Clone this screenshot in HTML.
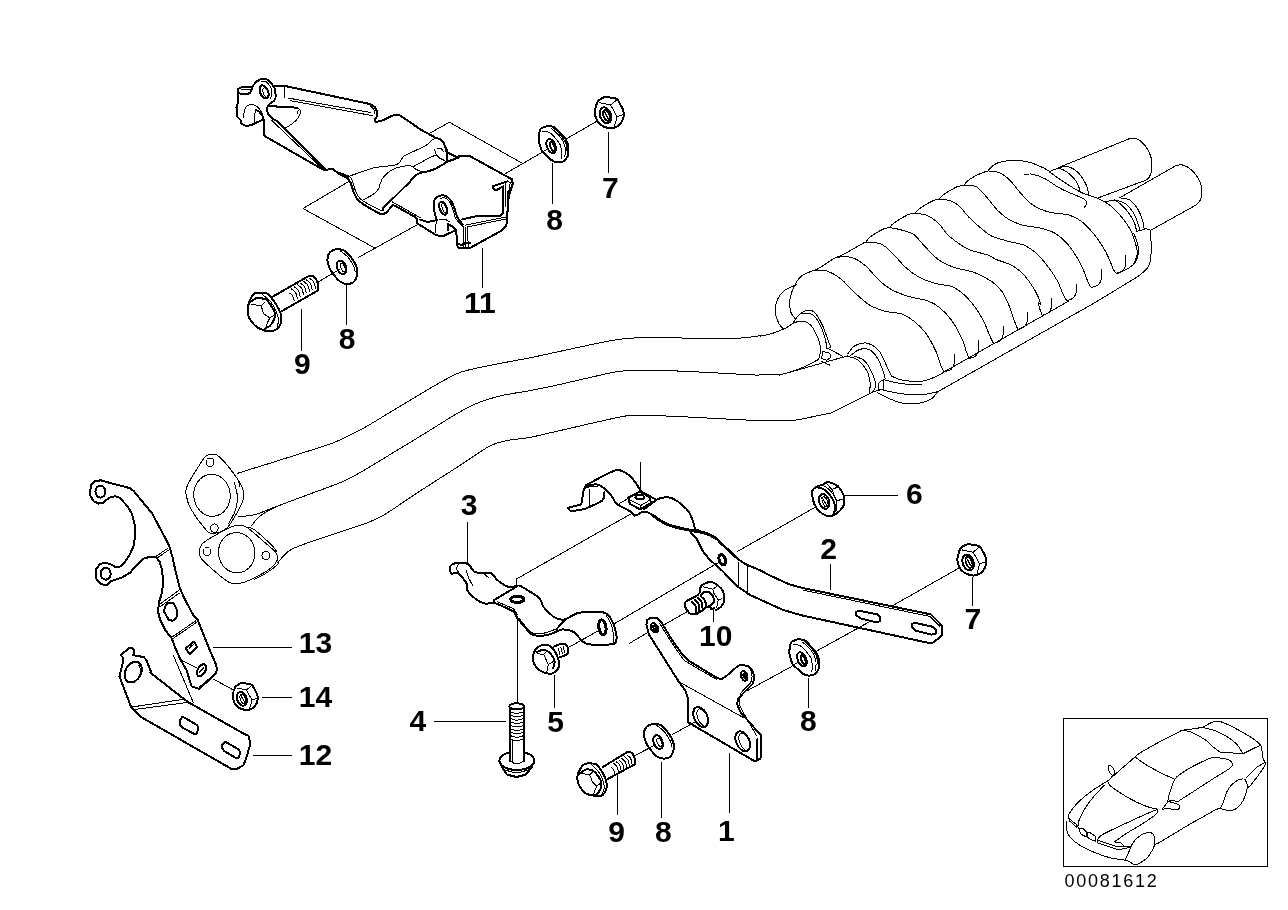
<!DOCTYPE html>
<html><head><meta charset="utf-8"><title>Exhaust system parts diagram</title>
<style>
html,body{margin:0;padding:0;background:#fff;}
svg{display:block;will-change:transform;}
.t{fill:none;stroke:#000;stroke-width:1;vector-effect:non-scaling-stroke;stroke-linejoin:round;stroke-linecap:round;}
.k{fill:none;stroke:#000;stroke-width:2;vector-effect:non-scaling-stroke;stroke-linejoin:round;stroke-linecap:round;}
.kk{fill:none;stroke:#000;stroke-width:3;vector-effect:non-scaling-stroke;stroke-linejoin:round;stroke-linecap:round;}
.w{fill:#fff;stroke:#000;stroke-width:2;vector-effect:non-scaling-stroke;stroke-linejoin:round;}
.wt{fill:#fff;stroke:#000;stroke-width:1;vector-effect:non-scaling-stroke;stroke-linejoin:round;}
.lbl{font-family:"Liberation Sans",sans-serif;font-weight:bold;font-size:29.5px;text-anchor:middle;fill:#000;}
.num{font-family:"Liberation Sans",sans-serif;font-size:17px;fill:#000;}
</style></head><body>
<svg width="1288" height="910" viewBox="0 0 1288 910" shape-rendering="crispEdges">
<rect x="0" y="0" width="1288" height="910" fill="#fff"/>
<!-- 05_leaders.svg -->
<g>
<path class="t" d="M430.9,132.6L449.4,122.3L522.3,163.3"/>
<path class="t" d="M503.8,174.5L542.4,152.2"/>
<path class="t" d="M565.8,139.2L596.6,121.4"/>
<path class="t" d="M552.5,163.8L552.5,203.7"/>
<path class="t" d="M608.5,132.2L608.5,172.1"/>
<path class="t" d="M482.5,248.2L482.5,287.5"/>
<path class="t" d="M348.4,181.8L303,208.5L375.7,248.5"/>
<path class="t" d="M358.1,257.6L416.1,225.3"/>
<path class="t" d="M318.2,281.9L339.4,269.4"/>
<path class="t" d="M301.3,309.1L301.3,350.2"/>
<path class="t" d="M346.2,284.1L346.2,324.8"/>
<path class="t" d="M467.6,522.8L467.6,563.6"/>
<path class="t" d="M516.2,586.1L516.2,579.2L630.7,514"/>
<path class="t" d="M517.4,619.5L517.4,708.7"/>
<path class="t" d="M568.5,647.5L598.8,630.4"/>
<path class="t" d="M613.6,624.2L719.2,562.1"/>
<path class="t" d="M629.2,643.5L646.4,633.2"/>
<path class="t" d="M664.3,624.7L687.5,611.5"/>
<path class="t" d="M713.9,608.4L713.9,621.6"/>
<path class="t" d="M554.5,675.4L554.5,707.6"/>
<path class="t" d="M434.2,721.5L505.6,721.5"/>
<path class="t" d="M845.2,495.2L897.9,495.2"/>
<path class="t" d="M737.8,551.3L814.9,507.4"/>
<path class="t" d="M830.4,564L830.4,589.6"/>
<path class="t" d="M893.6,605.1L959.3,567.9"/>
<path class="t" d="M972.3,577.3L972.3,605.6"/>
<path class="t" d="M817.5,650.6L869.6,621.7"/>
<path class="t" d="M747.3,690.7L792,666.3"/>
<path class="t" d="M808.6,678.9L808.6,707.6"/>
<path class="t" d="M672,734.7L695.3,721.9"/>
<path class="t" d="M634.8,755.8L655.7,744.4"/>
<path class="t" d="M661.5,762.3L661.5,818"/>
<path class="t" d="M729.5,753L729.5,813"/>
<path class="t" d="M617.4,775.3L617.4,814.8"/>
<path class="t" d="M213.2,647.2L291.7,647.2"/>
<path class="t" d="M262.4,697L291.7,697"/>
<path class="t" d="M253.3,755.3L291.7,755.3"/>
<path class="t" d="M181.5,660.2L196.5,667.7"/>
<path class="t" d="M214,679.4L234.7,690.7"/>
<path class="t" d="M173.3,655.2L193.3,702.6"/>
<path class="t" d="M640.4,462.8L640.4,490.7"/>
</g>
<!-- 10_muf1.svg -->
<g>
<path class="t" d="M889.5,227.5C891.5,227.9 897.5,228.8 901.5,230C905.5,231.2 909.9,231.9 913.7,234.4C917.4,237 919.7,241 923.8,245.2C927.8,249.3 932.9,255.6 937.9,259.3C943,263 948,265.2 954.1,267.4C960.2,269.6 968,270.1 974.3,272.5C980.6,274.8 987.5,278.5 992.1,281.7C996.8,285 999.5,288 1002.2,291.9C1005,295.7 1006.8,300.3 1008.7,304.8C1010.6,309.3 1012.2,314.8 1013.7,319C1015.2,323.1 1017.1,327.7 1017.8,329.5"/>
<path class="t" d="M915.1,213.1C917.1,213.5 923,213.9 926.8,215.4C930.5,217 934.3,219.3 937.6,222.4C941,225.5 944.2,231.1 947,234C949.7,237 950.5,237.6 954.1,240.1C957.6,242.6 962.5,246.7 968.2,249.2C974,251.7 983.8,253.6 988.5,255.3C993.1,257 992.2,257.8 996.2,259.5C1000.2,261.2 1007.6,262.9 1012.3,265.6C1017.1,268.3 1020.8,271.6 1024.5,275.7C1028.2,279.7 1031.9,285.2 1034.6,289.8C1037.3,294.5 1040.1,301.4 1040.7,303.6C1041.2,305.7 1037.8,300.8 1038,302.8C1038.2,304.7 1041.4,313.2 1042,315.3"/>
<path class="t" d="M939.2,199.1C941,199.4 946.7,199.5 950.1,200.7C953.4,201.8 956.3,203.4 959.4,206.1C962.5,208.8 964.6,212.8 968.7,217C972.8,221.1 980.3,227.7 984.2,230.9C988.1,234.1 988.1,234.5 992.1,236.3C996.1,238 1002.9,239.8 1008.3,241.3C1013.7,242.8 1019.8,243.3 1024.5,245.3C1029.2,247.4 1032.6,249.7 1036.6,253.4C1040.7,257.1 1045.2,262.9 1048.7,267.6C1052.3,272.3 1055.5,277.4 1057.8,281.7C1060.2,286.1 1061.4,290.7 1062.9,293.9C1064.4,297.1 1066.3,299.8 1066.9,300.9"/>
<path class="t" d="M964,185.1C965.8,185.3 972.2,185.4 974.9,186.2C977.6,187 977.8,187.6 980,189.8C982.2,191.9 985.1,195.3 988.1,198.8C991.1,202.4 994.8,207.6 998.2,211C1001.6,214.3 1004.3,216.7 1008.3,219.1C1012.3,221.4 1017.1,223.6 1022.5,225.1C1027.8,226.6 1035.3,226.8 1040.7,228.2C1046,229.5 1050.4,230.7 1054.8,233.2C1059.2,235.7 1063.2,239.3 1066.9,243.3C1070.6,247.4 1074.2,252.8 1077,257.5C1079.9,262.2 1082.3,267.4 1084.1,271.6C1086,275.8 1087,280.1 1088.2,282.8C1089.3,285.4 1090.7,286.6 1091.2,287.4"/>
<path class="t" d="M943,372.5L1069,300.9"/>
<path class="t" d="M937.9,391.7L1093.2,303.6"/>
<path class="t" d="M796.4,284.6C794.4,285.6 787.6,287.8 784.3,290.7C781,293.5 778,297.7 776.6,301.8C775.2,305.8 775.3,311.2 775.8,314.9C776.2,318.6 778,321.7 779.2,324C780.5,326.4 782.6,328.2 783.3,329.1"/>
<path class="t" d="M795.4,319C794.6,317.8 791.6,315.1 790.7,311.9C789.8,308.7 789.4,304 789.9,299.8C790.5,295.5 792,290.6 794,286.6C795.9,282.7 798.2,278.8 801.4,276.1C804.7,273.4 811.6,271.4 813.6,270.4"/>
<path class="t" d="M813.6,270.4C814.4,270.1 814.9,270.6 818.6,268.4C822.3,266.2 833,259.1 835.8,257.3"/>
<path class="t" d="M835.8,257.3C837,256.9 838,257.2 842.9,254.7C847.8,252.1 861.4,244.2 865.1,242.1"/>
<path class="t" d="M813.6,270.4C815.8,270.5 822.2,269.6 826.7,271C831.3,272.5 836.5,275.6 840.9,278.9C845.3,282.3 848.3,286.7 853,291.1C857.7,295.4 863.8,301.4 869.2,304.8C874.6,308.2 880,309.8 885.3,311.3C890.7,312.8 896.8,312.3 901.5,313.9C906.2,315.5 909.6,317.8 913.7,321C917.7,324.2 922.1,328.1 925.8,333.1C929.5,338.2 933.4,345.9 935.9,351.3C938.4,356.7 939.6,362 940.9,365.5C942.3,368.9 943.5,370.9 944,371.9"/>
<path class="t" d="M944,371.9C945.2,371.5 949.4,370.9 951.1,369.5C952.7,368.1 953.5,366 954.1,363.4C954.7,360.9 954.4,355.9 954.5,354.3"/>
<path class="t" d="M835.8,257.3C838.3,257.3 846.1,255.9 851,257.3C855.9,258.6 860.4,261.5 865.1,265.4C869.8,269.3 874.9,276.5 879.3,280.5C883.7,284.6 886.4,286.9 891.4,289.6C896.5,292.3 903.5,294.9 909.6,296.7C915.7,298.6 922.8,298.9 927.8,300.8C932.9,302.6 935.9,304.5 939.9,307.8C944,311.2 948.4,315.8 952.1,321C955.8,326.2 959.8,334.1 962.2,339.2C964.5,344.2 965,348.1 966.2,351.3C967.4,354.5 968.7,357.2 969.3,358.4"/>
<path class="t" d="M969.3,358.4C970.4,357.9 974.3,357.3 975.9,355.8C977.5,354.2 978.3,351.9 978.8,349.3C979.2,346.7 978.8,341.7 978.8,340.2"/>
<path class="t" d="M865.1,242.1C867.8,242.5 876.6,242.1 881.3,244.2C886,246.2 889.4,250.4 893.4,254.3C897.5,258.1 901.2,263.5 905.6,267.4C909.9,271.3 914.7,274.8 919.7,277.5C924.8,280.2 930.5,282.1 935.9,283.6C941.3,285.1 947.4,284.8 952.1,286.6C956.8,288.5 960.2,291 964.2,294.7C968.2,298.4 973,304.1 976.3,308.8C979.7,313.6 982.2,318.6 984.4,323C986.6,327.4 988,331.7 989.5,335.1C991,338.6 992.8,342.2 993.5,343.6"/>
<path class="t" d="M993.5,343.6C994.7,343.1 999,342 1000.6,340.4C1002.2,338.8 1002.8,336.4 1003.2,334.1C1003.7,331.8 1003.2,327.9 1003.2,326.6"/>
<path class="t" d="M1017.8,329.5C1018.9,329 1022.8,328.1 1024.4,326.6C1026.1,325.2 1027,322.9 1027.5,320.6C1028,318.2 1027.5,313.8 1027.5,312.5"/>
<path class="t" d="M1042,315.3C1043.1,314.8 1047.1,314 1048.7,312.5C1050.3,311 1051.2,308.8 1051.7,306.4C1052.2,304.1 1051.7,299.7 1051.7,298.3"/>
<path class="t" d="M891.4,376C893.1,376.6 896.5,379.1 901.5,380C906.6,380.9 916,381.8 921.7,381.2C927.5,380.7 932.2,378.1 935.9,376.6C939.6,375.1 942.6,372.9 944,372.1"/>
<path class="t" d="M883.7,379.6C886.7,380.3 895.2,382.8 901.5,383.7C907.9,384.5 918.4,384.5 921.7,384.7"/>
<path class="t" d="M881.3,389.7C884.7,390.4 894.8,392.9 901.5,393.8C908.3,394.6 915.7,395.1 921.7,394.8C927.8,394.4 935.2,392.2 937.9,391.7"/>
<path class="t" d="M877.3,392.8C880.6,394.3 891.4,400 897.5,401.9C903.5,403.7 908.3,404.2 913.7,403.9C919,403.5 925.8,401.9 929.8,399.8C933.9,397.8 936.6,393.1 937.9,391.7"/>
<path class="t" d="M760,336.1C762,335.7 768.3,334.7 772.1,333.5C776,332.3 780,330.5 783.3,329.1C786.5,327.6 788.8,326.9 791.3,324.6C793.9,322.3 797.2,316.9 798.4,315.3"/>
<path class="t" d="M798.4,315.3C799.8,314.5 803.8,310.8 806.5,310.3C809.2,309.8 812,309.8 814.6,312.3C817.2,314.7 820.1,320.5 822.3,325C824.5,329.5 826.3,335.5 827.7,339.2C829.1,342.9 830.3,345.9 830.8,347.3"/>
<path class="t" d="M801.4,313.3C803.2,313.5 809,312.4 812.2,314.3C815.3,316.3 818.1,320.9 820.2,325C822.4,329.2 824.2,335.3 825.3,339.2C826.4,343.1 826.5,346.8 826.7,348.3"/>
<path class="t" d="M790.3,325C792,324.3 797.1,321 800.4,321C803.8,321 807.7,322.3 810.5,325C813.4,327.7 815.9,333.1 817.6,337.2C819.3,341.2 820.5,345.6 820.7,349.3C820.8,353 819,357.7 818.6,359.4"/>
<path class="t" d="M760,374.6C763.4,374.6 773.5,375.6 780.2,374.6C787,373.5 794,371 800.4,368.5C806.8,366 815.6,360.9 818.6,359.4"/>
<path class="t" d="M830.8,347.3L827.7,348.3L842.9,356.4"/>
<path class="t" d="M822.7,351.3L829.8,353.3L830.8,357.4L826.7,360.4L821.7,358.4Z"/>
<path class="t" d="M821.7,361.4L829.8,365.1"/>
<path class="t" d="M779.2,375.2L847.9,355.8"/>
<path class="t" d="M847.9,353.7C849.1,352.4 851.8,347.4 855,345.6C858.2,343.9 863.1,342.3 867.2,343.2C871.2,344.2 875.9,347.3 879.3,351.3C882.7,355.3 885.3,363.4 887.4,367.5C889.4,371.5 890.7,374.2 891.4,375.6"/>
<path class="t" d="M849,356.8C850.6,355.6 855.7,350.9 859.1,349.7C862.4,348.5 866.1,348.3 869.2,349.7C872.2,351 874.9,354.1 877.3,357.8C879.6,361.4 882,368 883.3,371.5C884.7,375.1 885,377.8 885.3,379"/>
<path class="t" d="M846.9,356.4C848.6,356.9 853.7,356.9 857,359.4C860.4,361.9 865,367.5 867.2,371.5C869.3,375.6 869.8,380.1 870.2,383.7C870.5,387.2 869.3,391.2 869.2,392.8"/>
<path class="t" d="M855,356.4C856.7,357.2 862.1,358.2 865.1,361.4C868.2,364.6 871.5,371.5 873.2,375.6C875,379.6 875.6,383 875.6,385.7C875.6,388.4 873.6,390.7 873.2,391.7"/>
<path class="t" d="M829.8,413.6L869.2,393.8L873.2,391.7L881.3,389.7"/>
<path class="t" d="M878.3,383.7L881.3,380.6L883.7,380.6L883.3,389.7L878.3,389.7Z"/>
<path class="t" d="M1066.9,300.9C1068,300.4 1071.8,299.4 1073.4,297.9C1075,296.4 1075.9,294.1 1076.4,291.9C1076.9,289.6 1076.4,285.4 1076.4,284.2"/>
<path class="t" d="M1091.2,287.4C1092.4,287 1096.6,286.2 1098.3,284.8C1100,283.3 1100.8,281.2 1101.3,278.7C1101.8,276.2 1101.3,271.1 1101.3,269.6"/>
<path class="t" d="M988.1,170.9C990.1,171.3 996.5,171.4 1000.2,173C1003.9,174.6 1007,177.4 1010.3,180.7C1013.7,184 1016.7,188.7 1020.4,192.8C1024.1,196.8 1027.8,201.7 1032.6,204.9C1037.3,208.1 1042.7,210.3 1048.7,212C1054.8,213.7 1063.6,213.5 1069,215C1074.3,216.5 1077,218.1 1081.1,221.1C1085.1,224.1 1089.5,228.8 1093.2,233.2C1096.9,237.6 1100.6,243 1103.3,247.4C1106,251.8 1107.7,255.8 1109.4,259.5C1111.1,263.2 1112.3,267.3 1113.4,269.6C1114.6,271.9 1116,272.6 1116.5,273.3"/>
<path class="t" d="M1116.5,273.3C1117.5,272.8 1121,271.9 1122.5,270.6C1124.1,269.3 1125.1,268.1 1125.6,265.6C1126.1,263 1125.6,257.1 1125.6,255.5"/>
<path class="t" d="M1058.8,167.5L1129.6,138.6"/>
<path class="t" d="M1129.6,138.6C1130.8,138.6 1134.2,137.5 1136.7,138.6C1139.2,139.7 1142.4,142.3 1144.8,145.3C1147.1,148.2 1149.7,152.5 1150.8,156.4C1152,160.3 1152.1,165.1 1151.9,168.5C1151.6,172 1150.4,175.1 1149.4,177C1148.4,179 1146.4,179.7 1145.8,180.2"/>
<path class="t" d="M1145.8,180.2L1098.3,197.8"/>
<path class="t" d="M1049.8,171.6C1051.3,171 1055.6,168.2 1058.8,168.5C1062.1,168.9 1065.9,171.2 1069,173.6C1072,175.9 1075.1,179.5 1077,182.7C1079,185.8 1079.9,190.8 1080.5,192.4"/>
<path class="t" d="M1058.8,167.5C1060.5,167.4 1065.6,165.9 1069,166.9C1072.3,167.9 1076.2,170.6 1079.1,173.6C1081.9,176.5 1084.5,181 1086.1,184.7C1087.8,188.4 1088.7,194 1089.2,195.8"/>
<path class="t" d="M1119.5,197.8L1175.1,166.1"/>
<path class="t" d="M1175.1,166.1C1176.3,165.9 1179.3,164.1 1182.2,164.9C1185,165.6 1189.4,167.9 1192.3,170.5C1195.2,173.2 1197.7,177.3 1199.4,180.7C1201,184 1201.8,187.6 1202,190.8C1202.2,194 1201.3,197.5 1200.4,199.9C1199.4,202.2 1197,204.1 1196.3,204.9"/>
<path class="t" d="M1196.3,204.9L1150.8,230.2"/>
<path class="t" d="M1105.3,201.9C1107,201.7 1112.1,199.7 1115.5,200.9C1118.8,202.1 1122.5,205.6 1125.6,209C1128.6,212.3 1131.8,217.4 1133.7,221.1C1135.5,224.8 1136.2,229.5 1136.7,231.2"/>
<path class="t" d="M1114.4,199.9C1116.3,200.5 1122.2,201.4 1125.6,203.9C1128.9,206.4 1132.3,210.8 1134.7,215C1137,219.2 1138.9,226.8 1139.7,229.2"/>
<path class="t" d="M1119.5,197.8C1121.2,198.2 1126.6,198 1129.6,199.9C1132.6,201.7 1135.5,205.4 1137.7,209C1139.9,212.5 1141.7,217.7 1142.8,221.1C1143.8,224.5 1143.9,227.8 1144.2,229.2"/>
<path class="t" d="M1136.7,231.2L1141.7,230.2L1144.2,228.8L1148.8,229.2L1150.8,230.6"/>
<path class="t" d="M1150.8,230.6C1150.9,232.4 1151,236.8 1151,241.3C1151,245.8 1151.4,253.1 1150.8,257.5C1150.3,261.9 1150,264.4 1147.8,267.6C1145.6,270.8 1139.4,275.2 1137.7,276.7"/>
<path class="t" d="M1137.7,276.7L1093.2,303.6"/>
<path class="t" d="M1133.7,233.2C1134.2,234.6 1135.8,238.3 1136.7,241.3C1137.5,244.3 1138.9,248 1138.7,251.4C1138.5,254.8 1137.2,258.8 1135.7,261.5C1134.2,264.2 1132.6,265.6 1129.6,267.6C1126.6,269.6 1119.5,272.6 1117.5,273.7"/>
<path class="t" d="M1135.7,243.3C1135.9,245 1137.5,250.4 1137.3,253.4C1137.1,256.5 1135.1,260.2 1134.7,261.5"/>
<path class="t" d="M988.1,170.5C989.4,169.4 992.1,165.2 996.2,163.5C1000.2,161.8 1007,160.7 1012.3,160.4C1017.7,160.2 1023.5,160.9 1028.5,162.1C1033.6,163.2 1039.1,165.9 1042.7,167.5C1046.2,169.1 1048.6,170.9 1049.8,171.6"/>
<path class="t" d="M1049.8,172.2C1052.3,173.9 1059.7,179.3 1064.9,182.7C1070.1,186 1075.9,189.9 1081.1,192.4C1086.3,194.9 1091.5,195.7 1096.3,197.8C1101,199.9 1105.2,201.7 1109.4,204.9C1113.6,208.1 1118,212.8 1121.5,217C1125.1,221.3 1128.4,226.1 1130.6,230.2C1132.8,234.2 1133.7,238.1 1134.7,241.3C1135.7,244.5 1136.4,248 1136.7,249.4"/>
<path class="t" d="M1024.5,174.6C1025.8,174.5 1029.2,173.5 1032.6,174.2C1035.9,174.9 1040,176.2 1044.7,178.6C1049.4,181.1 1055.5,185.9 1060.9,188.7C1066.3,191.6 1073,194 1077,195.8C1081.1,197.7 1083.5,198.5 1085.1,199.9C1086.7,201.2 1086.9,202.7 1086.7,203.9C1086.6,205.2 1084.6,206.8 1084.1,207.3"/>
<path class="t" d="M866.2,241.5C867,240.6 868,238.4 870.9,236.4C873.7,234.3 880.2,230.5 883.3,229.1C886.4,227.6 888.5,227.8 889.5,227.5"/>
<path class="t" d="M889.5,227.5C890.3,226.7 891.1,225 894.2,222.9C897.3,220.7 904.6,216.3 908.1,214.6C911.6,213 914,213.3 915.1,213.1"/>
<path class="t" d="M915.1,213.1C915.9,212.3 916.8,210.5 919.8,208.4C922.8,206.3 929.7,202.2 933,200.7C936.2,199.1 938.2,199.4 939.2,199.1"/>
<path class="t" d="M939.2,199.1C940,198.3 941,196.4 943.9,194.4C946.7,192.4 952.9,188.7 956.3,187.1C959.6,185.6 962.7,185.5 964,185.1"/>
<path class="t" d="M964,185.1C964.8,184.3 965.8,182 968.7,180C971.5,178 977.9,174.6 981.1,173.2C984.4,171.7 986.9,171.5 988.1,171.1"/>
</g>
<!-- 11_pipes.svg -->
<g>
<path class="t" d="M237.2,473.4C244.7,471.1 267.6,464 282.1,459.4C296.5,454.9 315.4,448.8 324.1,446C332.7,443.2 330.6,443.9 333.9,442.6C337.2,441.3 338.3,440.8 343.7,438.1C349.1,435.5 355.4,432.8 366.1,426.7C376.8,420.5 396,408.7 408.1,401.4C420.3,394.2 430.1,388.1 438.9,383.2C447.8,378.3 452.5,375.1 461.4,372C470.2,369 480.7,367.4 492.2,365C503.6,362.6 519.3,359.9 530,357.8C540.6,355.7 542.4,355.1 556,352.2C569.7,349.3 598.1,342.9 612.1,340.4C626.1,338 626.1,338 640.1,337.6C654.1,337.3 679.8,338.1 696.1,338.2C712.5,338.3 727.5,338.6 738.1,338.2C748.8,337.8 756.3,336.1 760,335.7"/>
<path class="t" d="M238.6,516.3C241.2,516.1 247.7,516.5 254,514.9C260.4,513.3 267.1,510 276.5,506.5C285.8,503 299.8,497.7 310.1,493.9C320.4,490.1 331.6,486.1 338.1,483.5C344.6,481 345.6,480.4 349.3,478.5C353,476.6 354.9,475.6 360.5,472.3C366.1,469.1 372.6,465.1 382.9,458.9C393.2,452.7 409.5,442.8 422.1,435.1C434.7,427.4 449.2,418 458.6,412.6C467.9,407.3 471.2,405.6 478.2,402.8C485.2,400 491.9,397.9 500.6,395.8C509.2,393.8 520.7,392.3 530,390.6C539.2,388.8 542.4,388.2 556,385.3C569.7,382.3 599.5,375.1 612.1,372.6C624.7,370.2 622.3,371 631.7,370.7C641,370.4 655,370.4 668.1,370.7C681.2,371 696.1,371.9 710.1,372.6C724.1,373.3 743.8,374.5 752.1,374.9C760.5,375.3 758.7,374.9 760,374.9"/>
<path class="t" d="M277.9,562.5C280,560.4 284.2,553.7 290.5,549.9C296.8,546.2 306.8,543.3 315.7,540.1C324.6,536.9 335.3,533.7 343.7,530.9C352.1,528.1 360.5,525.4 366.1,523.3C371.7,521.2 373.6,520.1 377.3,518.3C381.1,516.4 381.1,516.9 388.5,512.1C396,507.3 410,497.6 422.1,489.7C434.3,481.8 450.2,471.7 461.4,464.5C472.6,457.2 481.9,450.2 489.4,446.3C496.8,442.3 499.4,442.1 506.2,440.7C513,439.2 521.7,438.9 530,437.4C538.3,435.8 541.4,434.8 556,431.5C570.6,428.2 604.6,420.1 617.7,417.5C630.7,414.8 626.1,415.7 634.5,415.5C642.9,415.3 653.2,415.5 668.1,416.1C683,416.6 707.8,418.1 724.1,418.9C740.5,419.7 754.5,420.6 766.1,420.8C777.8,421.1 784.8,421.3 794.2,420.3C803.5,419.2 816.2,415.8 822.2,414.7C828.1,413.6 828.5,413.8 829.8,413.6"/>
<path class="t" d="M251.2,526.1C252.6,524.5 255.9,519.3 259.6,516.3C263.4,513.3 269.9,509.9 273.7,507.9C277.4,505.9 280.7,504.9 282.1,504.3"/>
<path class="wt" d="M205.9,456.1C208.2,453.9 209.8,454 212,454.1C214.2,454.2 215.3,453.3 219,456.6C222.8,460 230.4,468.5 234.4,474.3C238.5,480 242,486.7 243.4,491.1C244.8,495.5 244.1,496.9 242.8,500.9C241.6,504.9 238.4,510.5 235.8,514.9C233.3,519.3 230.2,524.6 227.4,527.5C224.6,530.4 221.6,531.3 219,532.3C216.5,533.2 214.1,533.4 212,533.1C209.9,532.8 209.9,534.3 206.4,530.3C202.9,526.3 194.4,515.1 191,509.3C187.6,503.5 186.9,499.3 186.2,495.3C185.6,491.3 185.4,490.2 187.4,485.5C189.3,480.8 194.9,472.2 198,467.3C201.1,462.4 203.5,458.3 205.9,456.1Z"/>
<path class="t" d="M219,456.6C219.8,457.4 220.8,457.5 223.8,461.1C226.8,464.8 234.5,474.2 237.2,478.5C239.9,482.8 239.6,485.5 240,486.9"/>
<path class="t" d="M234.4,482.7C234.9,484.8 237,490.9 237.2,495.3C237.5,499.7 237.2,504.6 235.8,509.3C234.4,514 230,521 228.8,523.3"/>
<ellipse class="t" cx="212" cy="495.3" rx="18.2" ry="21" transform="rotate(-5 212 495.3)"/>
<ellipse class="t" cx="210.1" cy="462.2" rx="3.9" ry="4.2" transform="rotate(0 210.1 462.2)"/>
<ellipse class="t" cx="214.3" cy="528.1" rx="3.9" ry="4.2" transform="rotate(0 214.3 528.1)"/>
<path class="wt" d="M200.3,547.1C201.2,545.3 200.7,544.5 205,541.5C209.3,538.6 220.7,532.2 226,529.5C231.4,526.8 233.7,525.6 237.2,525.3C240.7,524.9 242.4,524.6 247,527.5C251.7,530.5 260.4,538.7 265.3,542.9C270.1,547.1 273.9,549.9 275.9,552.7C277.9,555.5 277.9,557.2 277,559.7C276.2,562.3 275.2,564.9 270.9,568.1C266.6,571.4 256.6,576.8 251.2,579.3C245.9,581.9 242.4,583.1 238.6,583.5C234.9,584 232.3,583.8 228.8,582.1C225.3,580.5 222.1,577.5 217.6,573.7C213.2,570 205.3,563.2 202.2,559.7C199.2,556.2 199.7,554.8 199.4,552.7C199.1,550.6 199.3,549 200.3,547.1Z"/>
<path class="t" d="M247,527.5C248.2,527.8 250.1,526.7 254,529.5C258,532.3 267.1,540.7 270.9,544.3C274.6,548 275.5,550.2 276.5,551.3"/>
<path class="t" d="M277,559.7C277.2,560.4 279.8,561.6 277.9,563.9C275.9,566.3 269.2,571.2 265.3,573.7C261.3,576.3 255.9,578.4 254,579.3"/>
<ellipse class="t" cx="236.7" cy="552.7" rx="18.2" ry="20.2" transform="rotate(-5 236.7 552.7)"/>
<ellipse class="t" cx="207" cy="551.3" rx="3.9" ry="4.2" transform="rotate(0 207 551.3)"/>
<ellipse class="t" cx="265.8" cy="555.5" rx="3.9" ry="4.2" transform="rotate(0 265.8 555.5)"/>

</g>
<!-- 20_shield.svg -->
<g>
<path class="w" d="M237.5,89.4L240.7,87.5L251.9,86.9L256.9,81.3L261.3,78.8L266.3,79L270.1,81.9L273.2,86L285.1,86L370.3,104.1L374.7,107L377.2,112L376.6,117L374.7,118.9L375.4,121.6L380.4,121.4L393.8,115L400,115.5L421.4,130L435.2,137.5L440.2,139.4L444,143.2L445.9,148.8L446.5,151.9L456.5,156.9L461.5,155.7L469.1,155.7L512.1,179.4L512.7,183.8L510.2,191.3L508.3,199.5L507.1,217.6L506.4,225.2L500.2,231.4L473.9,245.8L470.1,248L458.8,248L457,245.2L456.3,230.2L453.2,231.4L442.5,236.4L436.3,235.2L420.2,225.2L417.1,223.3L416.4,217.7L395.1,205.8L392.6,205.2L386.4,212.7L382,214.6L377.6,212.7L362.6,203.9L356.9,198.9L353.8,192.6L350.6,182.6L347.5,178.2L340,174.5L332.8,169L327.1,169.6L324,170.2L266.3,137L264.1,135.2L264.1,120.1L262.6,119.7L251.3,125.1L245.7,126L241.3,123.6L240.7,120.1L236.9,116.4L236.5,107.6L237.5,103.8Z"/>
<path class="k" d="M238.2,93.2L243.8,94.4L250.1,93.2L251.9,88.8"/>
<path class="t" d="M240.7,90L250.1,89.4"/>
<path class="t" d="M243.8,117.6C243.9,116.4 243.8,112.1 244.4,110.1C245,108.1 246.3,106.6 247.6,105.7C248.8,104.8 250.3,104.2 251.9,104.5C253.6,104.7 256,105.7 257.6,107C259.1,108.2 260.4,110.6 261.3,112C262.3,113.3 262.9,114.6 263.2,115.1"/>
<path class="k" d="M255.7,110.1C256.2,110.3 257.7,110.3 258.8,111.3C260,112.4 262,115 262.6,116.4C263.2,117.7 262.6,119 262.6,119.5"/>
<path class="t" d="M255.7,110.1L254.4,115.1L254.4,122.6"/>
<path class="t" d="M261.3,81.3C262.2,81.4 264.8,80.9 266.3,81.9C267.9,82.9 269.8,85.6 270.7,87.5C271.7,89.5 272,92 272,93.8C272,95.6 270.9,97.5 270.7,98.2"/>
<ellipse class="k" cx="264.1" cy="91.9" rx="4" ry="6.9" transform="rotate(-22 264.1 91.9)"/>
<ellipse class="t" cx="265.7" cy="92.6" rx="2.5" ry="5" transform="rotate(-22 265.7 92.6)"/>
<path class="k" d="M273.2,86C273.6,86.7 274.8,87.8 275.1,90C275.4,92.3 276.2,97 275.1,99.4C274.1,101.8 270.2,102.9 268.9,104.5C267.5,106 267.1,107.3 267,108.8C266.9,110.4 267.4,112.3 268.2,113.9C269.1,115.4 270.4,117 272,118.2C273.6,119.5 276.7,120.8 277.6,121.4"/>
<path class="k" d="M277.6,121.4L325.2,169"/>
<path class="t" d="M271.4,120.1L321.5,167.7"/>
<path class="k" d="M268.9,106.3C270.5,106.4 274.9,106.4 278.9,106.6C282.8,106.8 289.6,107.1 292.7,107.3C295.7,107.6 296.3,108.1 297,108.2"/>
<path class="t" d="M297,108.2C297.6,108.5 299.7,109.2 300.2,110.1C300.7,111 300.8,112.2 300.2,113.9C299.5,115.5 298.1,118.2 296.4,120.1C294.7,122 292,123.8 290.2,125.1C288.3,126.4 286,127.4 285.1,127.9"/>
<path class="t" d="M297,113.9L298.3,110.1"/>
<path class="t" d="M284.5,86.9L284.5,97.6"/>
<path class="t" d="M288.9,98.2L371,112.6"/>
<path class="t" d="M290.8,100.7L372.8,115.7"/>
<path class="t" d="M370.3,105.7C371,106.4 373.4,108.7 374.1,110.1C374.8,111.5 374.6,113.2 374.7,113.9"/>
<path class="t" d="M334,170.2L348.4,177.1"/>
<path class="k" d="M446.5,148.8L446.5,161.9"/>
<path class="k" d="M446.5,161.9L457.1,158.2L461.5,155.7"/>
<path class="k" d="M446.5,162.3C444.6,163.4 438.4,167.3 435.2,168.8C432.1,170.3 430,170.7 427.7,171.3C425.4,172 423.5,171.9 421.4,172.6C419.4,173.3 417.1,174.3 415.2,175.7C413.3,177.2 411.8,179.6 410.2,181.4C408.5,183.1 407.7,183.9 405.2,186.4C402.6,188.9 397.8,193.8 395.1,196.4C392.4,199 390.8,200.2 388.9,202C386.9,203.9 384.2,206.3 383.2,207.7C382.3,209 383.2,209.8 383.2,210.2"/>
<path class="t" d="M340,172.6C341.6,173.3 347.3,175.1 349.4,176.6C351.5,178.1 351.5,178.9 352.5,181.4C353.6,183.8 354.6,188.8 355.7,191.4C356.7,194 357.4,195.4 358.8,197C360.2,198.7 360.3,199.2 363.8,201.4C367.4,203.6 376.9,208.7 380.1,210.2C383.3,211.6 382.7,210.2 383.2,210.2"/>
<path class="t" d="M392.6,202L420.2,217.7"/>
<path class="t" d="M350.6,175.7C354.3,174.5 366.8,169.8 372.6,168.2C378.3,166.6 381.3,166.9 385.1,166.3C388.9,165.8 392.7,165.7 395.1,165.1C397.5,164.5 398.1,164 399.5,162.6C401,161.1 401.3,158.3 403.9,156.3C406.5,154.3 411.4,152.6 415.2,150.7C418.9,148.8 423.5,146.9 426.5,145C429.4,143.2 430.9,140.4 432.7,139.4C434.5,138.4 436.4,138.9 437.1,138.8"/>
<path class="t" d="M363.8,199.5C365.5,198.6 371.3,195.8 373.8,193.9C376.3,192 377.8,189.9 378.8,188.3C379.9,186.6 379.3,185.9 380.1,183.9C380.9,181.9 381.8,178.8 383.9,176.4C385.9,174 389.9,171 392.6,169.5C395.3,167.9 397.2,167.6 400.1,167C403.1,166.3 407.7,165.4 410.2,165.7C412.7,166 413.2,167.8 415.2,168.8C417.2,169.9 420.9,171.5 422.1,172"/>
<path class="t" d="M413.9,166.3C415.8,165.3 422.1,161.7 425.2,160.1C428.3,158.4 430.8,157 432.7,156.3C434.6,155.6 435,155.3 436.5,155.7C437.9,156.1 439.9,157.9 441.5,158.8C443.1,159.8 445.1,160.9 445.9,161.3"/>
<path class="t" d="M434.6,149.4C434.8,150.2 435.1,152.4 435.8,153.8C436.6,155.2 437.6,156.4 439,157.6C440.3,158.7 443.2,160.2 444,160.7"/>
<path class="t" d="M437.1,148.5C437.8,148.6 440.4,148.2 441.5,148.8C442.5,149.4 443.1,151.4 443.4,151.9"/>
<path class="w" d="M436.9,220.1C436.4,218.3 434.2,212.2 433.8,208.9C433.4,205.5 433.6,202.2 434.4,200.1C435.2,198 437,196.8 438.8,196.1C440.6,195.4 443.2,195.2 445.1,195.7C446.9,196.3 448.6,197.7 450.1,199.5C451.5,201.3 452.7,203.5 453.8,206.4C455,209.2 455.4,213.3 457,216.4C458.5,219.5 462.2,223.7 463.2,225.2"/>
<ellipse class="k" cx="443.2" cy="208.2" rx="3.5" ry="6.9" transform="rotate(-20 443.2 208.2)"/>
<ellipse class="t" cx="444.2" cy="208.2" rx="1.8" ry="5" transform="rotate(-20 444.2 208.2)"/>
<path class="t" d="M440,198.2C441,198.2 444,197.5 445.7,198.2C447.3,199 448.8,200.6 450.1,202.6C451.3,204.6 452.3,207.5 453.2,210.1C454.1,212.7 454.1,215.6 455.7,218.3C457.3,221 461.4,225.1 462.6,226.4"/>
<path class="k" d="M420,219.5L427.5,222L436.9,220.1"/>
<path class="t" d="M436.9,220.1L435.7,225.2L435.7,232.7"/>
<path class="t" d="M438.8,220.1C439.8,220 443.2,219.2 445.1,219.5C446.9,219.8 449.2,221.6 450.1,222"/>
<path class="k" d="M448.2,230.2L448.2,223.9L453.2,227L456.3,230.2"/>
<path class="k" d="M462,219.5C465,218.9 475.4,216.1 480.1,215.6C484.8,215.1 486.8,216.5 490.1,216.5C493.5,216.5 498,216.4 500.2,215.8C502.3,215.1 502.4,214.4 502.9,212.6C503.4,210.9 503.2,206.4 503.3,205.1"/>
<path class="k" d="M503.3,205.1L503.3,186.3"/>
<path class="t" d="M465.1,225.2L506.4,217"/>
<path class="t" d="M467,227L506.4,218.9"/>
<path class="t" d="M463.2,226.4L463.2,246.4"/>
<path class="t" d="M465.1,227L465.1,246.4"/>
<path class="t" d="M467.6,227.7L468.2,246.4"/>
<path class="k" d="M457.6,243.3L461.3,245.2L465.1,243.3L470.1,243.3"/>
<path class="k" d="M507.7,181.3L492.7,186.3L493.9,189.5L497.7,189.5L503.3,186.3"/>
<path class="t" d="M507.7,181.3L510.2,182.8L507.7,200.1"/>
<path class="t" d="M505.8,183.8L505.8,207"/>
<path class="k" d="M508.3,191.3L507.7,200.1"/>
</g>
<!-- 30_brackets.svg -->
<g>
<path class="w" d="M120.7,655.2L128.8,648.3L132,648.3L134.5,650.8L133.2,655.2L143.9,657.1L146.4,660.2L151.4,672.7L150.1,672.5L187.7,701.9L244.1,733.9L248.5,735.8L250.4,743.9L246,759L243.5,765.2L236.6,769L231.6,769L140.1,716.4L131.3,707.6L119.4,676.3L120.1,674L122.8,662.7L123.2,657.7Z"/>
<path class="t" d="M173.3,655.2L193.3,702.6"/>
<path class="w" d="M90,491.3L91.3,485L95,481.3L100.7,480.3L106.3,481.9L130.1,488.2L133.9,491.3L152,513.2L169,545.2L172.7,557.7L175.2,570L179.6,587.5L185.2,600.1L194,616.4L197.8,620.1L202.8,632.6L210.3,651.4L215.3,662.7L217.2,669L215.3,674L214,675.6L199,688.8L191.5,686.3L186.5,670L180.2,659L175.2,647.7L171.4,637.7L165.2,630.1L160.2,620.1L158.3,612.6L158.7,602.6L161.4,595.1L163.3,582.5L162,570L162.1,570.2L159.6,561.5L155.8,557.1L150.2,556.7L142.6,559L136.4,565.2L130.1,572.7L121.3,577.8L110.1,581.5L107.5,584.8L101.3,584.4L96.3,578.8L95.6,570L95.7,576.5L96.3,569L100,564L105.1,562.7L110.1,564L115.7,567.1L120.1,566.5L123.9,563.3L129.5,555.2L133.9,545.2L135.1,535.2L134.5,523.9L132,513.9L127.6,506.3L119.5,497.6L115.7,496.3L110.7,496.9L106.3,500.1L103.8,502.6L98.8,503.6L93.8,501.3L90.6,496.3Z"/>
<path class="w" d="M695.1,529.2L706,533.4L716.8,538.9L740.1,560.6L746.3,564.5L759.9,570.2L768.6,574.8L788.8,584.2L802.8,588L930.9,614.4L942.5,626.1L942.2,635.4L932.5,642.9L928.6,642.9L801.2,615.2L782.6,609.8L765.5,602L750,595L737,586.2L723,571.5L709.1,559L702.9,551.3L696.6,538.9L690.4,531.9Z"/>
<path class="w" d="M646.4,624.7L647.2,620L651.1,617.7L657.3,618.2L661.9,623.1L671.2,638.7L682.1,654.2L688.3,660.4L716.3,677.5L720.9,679.3L725.6,676.7L738,665.8L742.7,664.8L748.9,666.6L752.8,671.3L754.3,677.5L752.8,683.7L742.7,693.8L738,699.4L737.2,704.1L740.3,711.8L756.6,730.5L760.5,734.3L760.5,758.4L755.1,761.5L687.5,721.9L687.5,697.1L685.2,690.1L679,682.1L648.7,634Z"/>
<path class="t" d="M750.4,668.2C750.7,669.5 752,673.5 752,675.9C752,678.4 752.2,680.1 750.4,682.9C748.6,685.8 742.9,690.1 741.1,693C739.3,695.9 739.8,698.1 739.6,700.2C739.4,702.3 739.1,703.3 739.9,705.6C740.7,708 741.4,709.1 744.2,714.2C747,719.2 754.6,732.3 756.6,735.9"/>
<ellipse class="k" cx="100.4" cy="491.6" rx="5" ry="6" transform="rotate(0 100.4 491.6)"/>
<ellipse class="k" cx="105.7" cy="573.7" rx="5" ry="6" transform="rotate(0 105.7 573.7)"/>
<path class="t" d="M155.8,556.5L167.7,548.3"/>
<path class="t" d="M157.1,558L168.3,550.2"/>
<ellipse class="k" cx="133.2" cy="672.1" rx="7.8" ry="11" transform="rotate(28 133.2 672.1)"/>
<path class="t" d="M138.9,665.2C139.2,666.3 140.8,669.4 140.7,671.5C140.6,673.6 139.4,676.1 138.2,677.8C137.1,679.4 134.6,680.9 133.9,681.5"/>
<path class="t" d="M159.5,604.5L178.3,590.7"/>
<path class="t" d="M160.2,606.6L179.2,593.2"/>
<path class="t" d="M172.1,637L195.9,620.7"/>
<path class="t" d="M172.7,638.7L196.5,622.4"/>
<path class="k" d="M165.2,606.3L168.3,602.8L173.3,602.6L177.1,610.1L176.5,617.6L172.7,620.7L168.9,620.1L163.9,611.3Z"/>
<path class="k" d="M185.8,648.3L194,641.4L197.1,647.1L189.6,654.2Z"/>
<path class="t" d="M189,648.3L193.4,644.5"/>
<ellipse class="k" cx="201.5" cy="670.2" rx="3.8" ry="6.5" transform="rotate(32 201.5 670.2)"/>
<path class="t" d="M199,672.7L204,667.7"/>
<path class="t" d="M131.9,707L182.7,699.4"/>
<path class="t" d="M134.5,709.5L186.5,702.6"/>
<path class="k" d="M180.2,719.5L182.7,716.6L197.1,725.1L198.4,728.9L196.5,733.9L194,733.9L181.4,727L179.6,723.9Z"/>
<path class="k" d="M222.2,744.5L225.3,741.7L239.1,749.6L240.3,753.3L238.4,757.7L235.3,757.7L224,750.8L221.8,747.1Z"/>
<path class="t" d="M199.6,686.9L213.4,675"/>
<path class="w" d="M449.8,568.3C449.8,567.4 451.2,565 452.1,564.4C452.9,563.9 457,563 458.3,562.9C459.6,562.7 464.1,562.5 465.3,562.9C466.4,563.2 469.1,565.1 469.9,566C470.8,566.8 472.8,570.7 473.8,571.4C474.8,572.1 478.6,572.8 480,573C481.4,573.1 486.6,572.6 487.8,572.6C489,572.7 490.7,572.5 491.7,573.3C492.6,574 495.8,578.7 497.1,579.9C498.4,581.1 503.5,584.6 504.9,585.4C506.3,586.1 509.6,587.2 511.1,587.2C512.6,587.3 516.9,584.7 519.6,585.7C522.3,586.7 536.1,595.4 538.3,597C540.4,598.6 540.8,600.7 541.4,601.7C541.9,602.7 542.5,605.6 543.7,607.1C544.9,608.6 551.5,615.2 553,616.4C554.6,617.6 558,618.9 559.2,619.2C560.5,619.5 563.6,619.8 565.4,619.2C567.3,618.6 575.4,613.7 577.9,613C580.3,612.3 587.7,612.1 590.3,612.1C592.8,612 601.6,612.2 603.5,612.5C605.3,612.9 607.9,614.5 608.9,615.7C609.9,616.8 612.8,622.3 613.6,624.2C614.3,626.1 616.1,633.3 616.4,635.1C616.6,636.8 616.3,641.1 615.9,642C615.5,643 614.7,644.1 612,644.4C609.3,644.6 591.7,644.7 588.7,644.4C585.8,644.1 583.9,642.4 582.5,641.3C581.1,640.1 576.1,633.9 574.8,632.7C573.4,631.6 569.9,630.4 568.5,630.1C567.1,629.8 562,629.4 560.8,629.6C559.5,629.8 557.5,631.4 556.1,632C554.7,632.5 548.7,634.7 546.8,635.1C544.9,635.5 539.1,636 537.5,635.8C535.9,635.7 531.7,634.4 530.5,633.5C529.3,632.7 526.4,628.9 525.1,627.3C523.7,625.7 518.3,619.4 517.3,618C516.3,616.6 515.4,614 515,613.3C514.5,612.6 514.7,612 512.6,611C510.6,610 497.4,604 494.8,603.2C492.1,602.5 487.7,603.9 486.2,603.7C484.8,603.5 481.4,602.4 480,601.7C478.6,600.9 473.6,597.5 472.3,596.2C470.9,595 467.4,590.5 466.8,589.3C466.3,588 467.2,584.9 466.8,583.8C466.4,582.7 463.8,579.5 463,578.4C462.1,577.3 459.1,573.5 458.3,573C457.5,572.4 455.9,572.9 455.2,573C454.5,573 451.8,574.2 451.3,573.7C450.8,573.3 449.7,569.2 449.8,568.3Z"/>
<path class="k" d="M494.8,603.2L494,600.1L515.7,587.2"/>
<path class="k" d="M565.4,619.5L556.1,629.6"/>
<path class="t" d="M497.1,601.7L513.4,608.7L517.3,614.1"/>
<path class="t" d="M518.9,618C520.4,619.9 525.6,627 528.2,629.6C530.8,632.2 531.8,632.9 534.4,633.5C537,634.1 540.3,633.8 543.7,633.2C547.1,632.6 552.8,630.2 554.6,629.6"/>
<ellipse class="kk" cx="517.3" cy="599.3" rx="6.7" ry="3.1" transform="rotate(0 517.3 599.3)"/>
<ellipse class="kk" cx="602.4" cy="627.3" rx="3.6" ry="7.5" transform="rotate(-8 602.4 627.3)"/>
<path class="t" d="M458.3,564.4C458,565.1 456.7,567 456.7,568.3C456.7,569.6 458,571.5 458.3,572.2"/>
<path class="t" d="M466.1,569.8L468.4,577.6L473,586.1"/>
<path class="t" d="M484.7,574.5L488.6,577.6"/>
<path class="t" d="M605.8,614.9C606.7,616.4 609.9,620.8 611.2,624.2C612.5,627.6 613.2,632 613.6,635.1C613.9,638.2 613.3,641.5 613.3,642.8"/>
<path class="t" d="M718.4,542L738.6,560.6"/>
<path class="t" d="M738.6,562.1L738.6,587"/>
<path class="t" d="M747.9,566.8L747.9,592.4"/>
<ellipse class="kk" cx="722.3" cy="559.8" rx="3.1" ry="5.3" transform="rotate(-20 722.3 559.8)"/>
<path class="k" d="M643.9,509.3C645.9,507.8 653.2,502 656.3,500C659.4,498.1 660.2,498.1 662.5,497.7C664.8,497.3 667.7,497.1 670.2,497.7C672.8,498.3 675,499.4 678,501.6C681,503.8 685.8,508.1 688.1,510.9C690.4,513.7 690.8,515.7 692,518.7C693.2,521.6 694.6,527.1 695.1,528.8"/>
<path class="k" d="M634.5,515.6C635.1,515.4 636.6,515.3 637.6,514.8C638.7,514.3 639.2,512.9 640.7,512.5C642.3,512 644.9,511.6 647,512.1C649,512.7 652.1,515 653.2,515.6"/>
<path class="kk" d="M653.2,515.6C654.5,516.5 658.3,519.4 660.9,521C663.5,522.5 665.8,523.8 668.7,524.9C671.5,526 674.4,526.8 678,527.7C681.6,528.6 685.8,529.4 690.4,530.3C695.1,531.3 701.6,532 706,533.4C710.4,534.8 715,537.9 716.8,538.9"/>
<path class="k" d="M585.6,485.3C590.2,483 606.8,473.7 612.8,471.3C618.7,468.9 618.5,470.1 621.3,470.8C624.2,471.6 627.5,474.1 629.9,476C632.2,477.9 633.5,479.7 635.3,482.2C637.1,484.6 639.3,488.9 640.7,490.7C642.2,492.5 641.4,491.6 643.9,493C646.3,494.5 653.6,498.2 655.5,499.3"/>
<path class="k" d="M567.8,507.8C569,507.5 578.8,505.3 580.2,504.7C581.6,504.1 581.4,503.2 581.7,501.6C582.1,500 583.4,490 584.1,488.4C584.8,486.8 587.4,485.7 588.7,485.3C590,484.9 595.7,484.2 597.3,484.5C598.8,484.8 602.9,487.3 604.3,488.4C605.7,489.5 610.1,493.9 611.2,495.4C612.4,496.8 614.8,502 615.9,503.1C617,504.3 620.6,506.2 622.1,507C623.6,507.9 629.4,510.8 630.7,511.7C631.9,512.5 634.1,515.2 634.5,515.6"/>
<path class="k" d="M567.8,507.8C568.1,508.1 569.3,510.7 570.9,510.9C572.4,511.1 581.3,509.8 583.3,509.3C585.3,508.9 589.2,507.1 591.1,506.2C592.9,505.4 600.6,501.7 601.9,500.8C603.2,499.9 604,497.8 604.3,496.9C604.5,496.1 604.3,492.7 604.3,492.3"/>
<path class="t" d="M589.5,489.9L589.5,506.2"/>
<path class="t" d="M585.6,488.4C586.5,488 589.1,486.3 591.1,486.1C593,485.8 596.2,486.7 597.3,486.8"/>
<path class="w" d="M628.3,497.7L640,491.5L650.1,497.7L650.8,503.1L640,509.3L629.9,503.9Z"/>
<path class="t" d="M629.9,500L640.7,505.5L650.1,500"/>
<path class="t" d="M640.7,505.5L640,509.3"/>
<ellipse class="k" cx="639.7" cy="497.2" rx="4.3" ry="2.3" transform="rotate(0 639.7 497.2)"/>
<path class="t" d="M619.8,503.1L628.3,498.5"/>
<path class="k" d="M643.9,509.3L656.3,500"/>
<path class="t" d="M802.8,590.1L930.1,616.5L940.2,626.9"/>
<path class="k" d="M855.6,612.1L858.7,610.6L877.3,614.4L880.4,617.5L879.7,621.4L875.8,622.2L860.2,618.3L856.4,615.2Z"/>
<path class="k" d="M911.5,624.5L914.6,622.7L933.2,626.9L936.3,630L935.6,633.9L931.7,634.6L915.4,630.7L912.3,627.6Z"/>
<path class="t" d="M659.6,623.1C661,625.5 664.5,631.5 668.1,637.1C671.8,642.7 678.2,652.4 681.3,656.5C684.4,660.7 680.9,658.2 686.8,662C692.6,665.8 711.4,676.4 716.3,679.3"/>
<ellipse class="k" cx="654.5" cy="627.8" rx="3.4" ry="5" transform="rotate(-30 654.5 627.8)"/>
<ellipse class="k" cx="654.9" cy="628.1" rx="1.2" ry="2.8" transform="rotate(-30 654.9 628.1)"/>
<ellipse class="k" cx="744.2" cy="675.9" rx="3.1" ry="5" transform="rotate(-20 744.2 675.9)"/>
<ellipse class="k" cx="744.7" cy="676.2" rx="1.1" ry="2.8" transform="rotate(-20 744.7 676.2)"/>
<path class="k" d="M757.4,739L757.4,759.2"/>
<path class="t" d="M679.8,682.3L744.2,718"/>
<ellipse class="k" cx="700.7" cy="717" rx="6.5" ry="10.6" transform="rotate(-25 700.7 717)"/>
<ellipse class="t" cx="702.6" cy="717.6" rx="4.7" ry="9.3" transform="rotate(-25 702.6 717.6)"/>
<ellipse class="k" cx="742.7" cy="741.3" rx="6.5" ry="10.6" transform="rotate(-25 742.7 741.3)"/>
<ellipse class="t" cx="744.5" cy="742" rx="4.7" ry="9.3" transform="rotate(-25 744.5 742)"/>
</g>
<!-- 40_overlay.svg -->
<g>
<path class="t" d="M581,640.5L598.8,630.4"/>
<path class="t" d="M181.5,660.2L196.5,667.7"/>
<path class="t" d="M700,573.4L719.2,562.1"/>
<path class="t" d="M857,628.7L869.6,621.7"/>
<path class="t" d="M686,727L695.3,721.9"/>
</g>
<!-- 50_hw.svg -->
<g>
<path class="w" d="M328.6,254.1C329.5,252.4 331.3,251.1 332.9,250.3C334.6,249.5 336.4,249.2 338.4,249.2C340.4,249.3 342.9,249.7 344.9,250.9C346.9,252.1 348.7,254.3 350.3,256.3C352,258.3 353.5,260.5 354.7,262.8C355.9,265.2 357.1,267.9 357.4,270.5C357.7,273 357,276.1 356.3,278.1C355.6,280.1 354.6,281.4 353.1,282.4C351.5,283.4 349.2,284.1 347.1,284.1C345,284 342.6,283.2 340.5,281.9C338.5,280.5 336.4,278.2 334.6,275.9C332.7,273.6 330.8,270.8 329.7,268.3C328.5,265.7 327.7,263 327.5,260.7C327.3,258.3 327.7,255.9 328.6,254.1Z"/>
<path class="t" d="M340.5,250.9C341.8,252 346,254.9 348.2,257.4C350.3,259.9 352.4,263.7 353.6,266.1C354.8,268.5 355,270.6 355.2,271.5"/>
<ellipse class="k" cx="341.6" cy="267.4" rx="4.4" ry="7.2" transform="rotate(-22 341.6 267.4)"/>
<ellipse class="t" cx="342.9" cy="267.7" rx="2" ry="4.6" transform="rotate(-22 342.9 267.7)"/>
<path class="w" d="M645.1,728.8C646,727.1 647.8,725.8 649.4,725C651.1,724.2 652.9,723.8 654.9,723.9C656.9,724 659.4,724.3 661.4,725.5C663.4,726.7 665.2,729 666.8,731C668.5,733 670,735.1 671.2,737.5C672.4,739.8 673.6,742.6 673.9,745.1C674.2,747.6 673.5,750.7 672.8,752.7C672.1,754.7 671.1,756.1 669.6,757.1C668,758.1 665.7,758.8 663.6,758.7C661.5,758.6 659.1,757.9 657,756.5C655,755.2 652.9,752.8 651.1,750.5C649.2,748.3 647.3,745.5 646.2,742.9C645,740.4 644.2,737.7 644,735.3C643.8,733 644.2,730.5 645.1,728.8Z"/>
<path class="t" d="M657,725.5C658.3,726.6 662.5,729.5 664.7,732.1C666.8,734.6 668.9,738.4 670.1,740.8C671.3,743.1 671.5,745.3 671.7,746.2"/>
<ellipse class="k" cx="658.1" cy="742.1" rx="4.4" ry="7.2" transform="rotate(-22 658.1 742.1)"/>
<ellipse class="t" cx="659.4" cy="742.4" rx="2" ry="4.6" transform="rotate(-22 659.4 742.4)"/>
<path class="w" d="M540,129.8C540.8,128 542,128.1 543.3,127.5C544.6,126.9 546.1,126.1 548,126.1C549.8,126.1 552.6,126.4 554.5,127.5C556.5,128.6 557.9,130.8 559.6,132.6C561.4,134.5 563.9,136.8 565.3,138.7C566.6,140.6 567,141.9 567.6,143.8C568.1,145.8 568.5,148.3 568.5,150.4C568.5,152.5 568.4,154.6 567.6,156.4C566.8,158.2 565.6,160.1 563.9,161.1C562.1,162.1 559.3,162.5 557.3,162.3C555.3,162.2 553.5,161.3 551.7,160.2C549.9,159 548.2,157.1 546.6,155.5C544.9,153.9 543,152.6 541.9,150.8C540.8,149 540.3,146.8 539.8,144.8C539.2,142.7 538.6,141.2 538.6,138.7C538.7,136.2 539.3,131.7 540,129.8Z"/>
<path class="t" d="M542.4,131.7C543.5,131.8 546.7,131.1 548.9,132.2C551.1,133.3 553.5,136 555.4,138.2C557.4,140.5 559.6,143.1 560.6,145.7C561.6,148.3 561.4,151.9 561.5,154.1C561.6,156.3 561.1,158 561,158.8"/>
<path class="t" d="M551.7,128.9C552.6,129.7 555.4,131.5 557.3,133.6C559.2,135.6 561.6,138.5 562.9,141C564.2,143.5 564.9,145.9 565.3,148.5C565.6,151.1 564.9,155.5 564.8,156.9"/>
<path class="t" d="M553.6,128C554.7,129 558.1,132 560.1,134.5C562.1,137 564.6,140.3 565.7,142.9C566.8,145.5 566.5,149.1 566.7,150.4"/>
<ellipse class="k" cx="551.2" cy="146.2" rx="4.2" ry="7.5" transform="rotate(-22 551.2 146.2)"/>
<ellipse class="k" cx="552.5" cy="146.6" rx="1.9" ry="4.7" transform="rotate(-22 552.5 146.6)"/>
<path class="w" d="M790.7,643C791.5,641.2 792.7,641.3 794,640.7C795.3,640.1 796.8,639.3 798.7,639.3C800.5,639.3 803.3,639.6 805.2,640.7C807.2,641.8 808.6,644 810.3,645.8C812.1,647.7 814.6,650 816,651.9C817.3,653.8 817.7,655.1 818.3,657C818.8,659 819.2,661.5 819.2,663.6C819.2,665.7 819.1,667.8 818.3,669.6C817.5,671.4 816.3,673.3 814.6,674.3C812.8,675.3 810,675.7 808,675.5C806,675.4 804.2,674.5 802.4,673.4C800.6,672.2 798.9,670.3 797.3,668.7C795.6,667.1 793.7,665.8 792.6,664C791.5,662.2 791,660 790.5,658C789.9,655.9 789.3,654.4 789.3,651.9C789.4,649.4 790,644.9 790.7,643Z"/>
<path class="t" d="M793.1,644.9C794.2,645 797.4,644.3 799.6,645.4C801.8,646.5 804.2,649.2 806.1,651.4C808.1,653.7 810.3,656.3 811.3,658.9C812.3,661.5 812.1,665.1 812.2,667.3C812.3,669.5 811.8,671.2 811.7,672"/>
<path class="t" d="M802.4,642.1C803.3,642.9 806.1,644.7 808,646.8C809.9,648.8 812.3,651.7 813.6,654.2C814.9,656.7 815.6,659.1 816,661.7C816.3,664.3 815.6,668.7 815.5,670.1"/>
<path class="t" d="M804.3,641.2C805.4,642.2 808.8,645.2 810.8,647.7C812.8,650.2 815.3,653.5 816.4,656.1C817.5,658.7 817.2,662.3 817.4,663.6"/>
<ellipse class="k" cx="801.9" cy="659.4" rx="4.2" ry="7.5" transform="rotate(-22 801.9 659.4)"/>
<ellipse class="k" cx="803.2" cy="659.8" rx="1.9" ry="4.7" transform="rotate(-22 803.2 659.8)"/>
<path class="w" d="M597.5,101.8C598.3,100.4 601.3,98.5 602.2,98C603,97.6 604.5,97 605.9,97.1C607.4,97.2 615.2,98.2 616.7,99C618.1,99.7 619.7,103.5 620.4,104.6C621,105.7 622.9,108.9 623.2,110.2C623.5,111.5 623.8,116.2 623.5,117.6C623.1,119 620.8,123.2 619.9,124.2C619,125.2 615.5,127.5 614.3,127.9C613.1,128.3 609.1,128.2 607.8,127.9C606.5,127.6 602.3,125.9 601.3,125.1C600.2,124.4 597.7,121.8 597,120.4C596.4,119.1 594.7,113.9 594.7,112C594.8,110.2 596.8,103.2 597.5,101.8Z"/>
<path class="t" d="M599.4,102.7L610.6,105L616.2,100.4"/>
<path class="t" d="M610.6,105L617.1,116.7L622.3,114.8"/>
<path class="t" d="M617.1,116.7L614.3,127"/>
<ellipse class="k" cx="605.5" cy="115.3" rx="5.4" ry="8.2" transform="rotate(-20 605.5 115.3)"/>
<ellipse class="k" cx="606.4" cy="115.3" rx="3" ry="5.6" transform="rotate(-20 606.4 115.3)"/>
<path class="t" d="M604.5,111.6L608.3,119"/>
<path class="w" d="M960.1,549C960.9,547.6 963.9,545.7 964.8,545.2C965.6,544.8 967.1,544.2 968.5,544.3C970,544.4 977.8,545.4 979.3,546.2C980.7,546.9 982.3,550.7 983,551.8C983.6,552.9 985.5,556.1 985.8,557.4C986.1,558.7 986.4,563.4 986.1,564.8C985.7,566.2 983.4,570.4 982.5,571.4C981.6,572.4 978.1,574.7 976.9,575.1C975.7,575.5 971.7,575.4 970.4,575.1C969.1,574.8 964.9,573.1 963.9,572.3C962.8,571.6 960.3,569 959.6,567.6C959,566.3 957.3,561.1 957.3,559.2C957.4,557.4 959.4,550.4 960.1,549Z"/>
<path class="t" d="M962,549.9L973.2,552.2L978.8,547.6"/>
<path class="t" d="M973.2,552.2L979.7,563.9L984.9,562"/>
<path class="t" d="M979.7,563.9L976.9,574.2"/>
<ellipse class="k" cx="968.1" cy="562.5" rx="5.4" ry="8.2" transform="rotate(-20 968.1 562.5)"/>
<ellipse class="k" cx="969" cy="562.5" rx="3" ry="5.6" transform="rotate(-20 969 562.5)"/>
<path class="t" d="M967.1,558.8L970.9,566.2"/>
<path class="w" d="M235.1,687.2C235.8,686 238.4,684.4 239.1,684C239.9,683.6 241.1,683.1 242.4,683.2C243.6,683.3 250.3,684.2 251.6,684.8C252.8,685.4 254.2,688.7 254.8,689.6C255.4,690.6 256.9,693.3 257.2,694.4C257.5,695.6 257.7,699.7 257.4,700.9C257.2,702.1 255.2,705.6 254.4,706.5C253.6,707.4 250.6,709.4 249.6,709.7C248.5,710 245.1,709.9 244,709.7C242.8,709.4 239.3,707.9 238.3,707.3C237.4,706.6 235.3,704.4 234.7,703.3C234.2,702.1 232.7,697.6 232.7,696C232.8,694.4 234.5,688.4 235.1,687.2Z"/>
<path class="t" d="M236.7,688L246.4,690L251.2,686"/>
<path class="t" d="M246.4,690L252,700.1L256.4,698.4"/>
<path class="t" d="M252,700.1L249.6,708.9"/>
<ellipse class="k" cx="241.9" cy="698.8" rx="4.7" ry="7.1" transform="rotate(-20 241.9 698.8)"/>
<ellipse class="t" cx="242.8" cy="698.8" rx="2.6" ry="4.8" transform="rotate(-20 242.8 698.8)"/>
<path class="t" d="M241.1,695.6L244.4,702.1"/>
<path class="w" d="M812.2,491.1C812.7,488.8 814.7,487.8 816.5,486.8C818.4,485.7 821.4,485.3 823.1,484.6C824.7,483.9 824.9,482.7 826.3,482.4C827.8,482.1 829.9,482.3 831.8,482.9C833.7,483.6 836.1,484.9 837.8,486.2C839.4,487.6 840.5,489.2 841.6,491.1C842.7,493 843.9,495.3 844.3,497.6C844.6,500 844.5,503.1 843.7,505.2C843,507.4 841.6,509.1 839.9,510.7C838.3,512.3 835.9,514.1 834,515C832,515.9 830.5,516.4 828.5,516.1C826.5,515.9 824,514.8 822,513.4C820,512 818,510.1 816.5,508C815.1,505.9 814,503.7 813.3,500.9C812.6,498.1 811.7,493.5 812.2,491.1Z"/>
<path class="k" d="M817.6,487.3C818.9,487.8 822.9,488.3 825.2,490C827.6,491.7 830.1,494.9 831.8,497.6C833.4,500.4 834.7,503.6 835,506.3C835.4,509.1 834.1,512.7 834,514"/>
<path class="t" d="M823.1,485.1C824.3,486.1 828.6,488.8 830.7,491.1C832.8,493.4 834.6,495.8 835.6,498.7C836.6,501.6 836.5,506.9 836.7,508.5"/>
<path class="t" d="M826.3,482.9L831.8,489.5L837.2,487.3"/>
<path class="t" d="M831.8,489.5L836.7,500.9L843.7,498.7"/>
<path class="t" d="M836.7,500.9L836.1,510.7"/>
<ellipse class="k" cx="824.2" cy="501.4" rx="4.9" ry="7.6" transform="rotate(-20 824.2 501.4)"/>
<ellipse class="t" cx="825" cy="501.8" rx="2.4" ry="5.2" transform="rotate(-20 825 501.8)"/>
<path class="t" d="M822,497.6L826.9,505.8"/>
<path class="k" d="M272,297.1L309,275.9"/>
<path class="k" d="M280.7,311.8L317.7,290.6"/>
<path class="k" d="M309,275.9C309.7,276 312.1,275.7 313.3,276.4C314.6,277.2 315.8,278.7 316.6,280.2C317.4,281.8 318,284 318.2,285.7C318.4,287.4 317.8,289.8 317.7,290.6"/>
<path class="t" d="M289.9,293.3C290.4,293.8 291.9,294.8 292.7,296C293.4,297.3 294,300.1 294.3,300.9"/>
<path class="t" d="M291.6,289C292.3,289.6 294.7,291.1 295.7,292.8C296.7,294.4 297.2,297.9 297.5,299"/>
<path class="t" d="M294.3,286.8C295,287.4 297.4,288.9 298.4,290.6C299.4,292.3 300,295.7 300.3,296.8"/>
<path class="t" d="M297.5,284.6C298.2,285.2 300.7,286.7 301.7,288.4C302.7,290.1 303.2,293.6 303.5,294.6"/>
<path class="t" d="M300.3,283C301,283.6 303.4,285.1 304.4,286.8C305.4,288.4 305.9,291.9 306.3,293"/>
<path class="t" d="M303.5,281.3C304.2,282 306.7,283.5 307.7,285.1C308.7,286.8 309.2,290.3 309.5,291.3"/>
<path class="t" d="M306.3,279.7C306.9,280.3 309.4,281.8 310.4,283.5C311.4,285.2 311.9,288.7 312.2,289.7"/>
<path class="t" d="M309.5,278.1C310.2,278.7 312.7,280.2 313.6,281.9C314.6,283.5 315.2,287 315.5,288.1"/>
<path class="w" d="M252.4,295.5C253.1,294.5 254,293 255.7,292.8C257.3,292.5 264.7,292.7 266.5,293.3C268.4,293.9 270,295.9 271.4,297.7C272.8,299.4 277.4,306.4 278.5,308.5C279.7,310.7 281,314.4 281.2,316.1C281.5,317.9 281.1,322.3 280.7,323.8C280.2,325.2 278.4,327.8 277.4,328.7C276.4,329.5 273.4,330.9 272,331.2C270.6,331.4 267.2,331.3 265.5,330.8C263.7,330.3 258.5,328.2 256.8,327C255,325.8 251.8,322 250.8,320.5C249.7,319 248.2,315.5 247.8,314C247.5,312.4 247.6,309 247.8,307.4C248.1,305.9 249.2,302.3 249.7,300.9C250.2,299.5 251.7,296.4 252.4,295.5Z"/>
<path class="k" d="M249.7,302.5C250.4,302.1 255.6,297.9 257.3,297.7C259,297.4 265.2,299.1 266.5,299.8C267.9,300.6 270,303.9 270.9,305.3C271.8,306.7 275,312.4 275.2,314C275.5,315.5 274.2,319.3 273.6,320.5C273.1,321.7 270.7,325.1 269.8,325.9C268.9,326.8 265.4,328.4 264.9,328.7"/>
<path class="t" d="M251.3,304.2L261.1,305.8L264.9,302.5"/>
<path class="t" d="M261.1,305.8L263.8,314L269.8,317.8L274.7,315.1"/>
<path class="t" d="M269.8,317.8L266.5,324.8L265.5,330.3"/>
<path class="t" d="M262.2,294.4C263.6,295.7 268.5,299.1 270.9,302C273.3,304.9 275.1,308.7 276.3,311.8C277.6,314.9 278.4,318 278.5,320.5C278.6,323 277.2,325.9 276.9,327"/>
<path class="k" d="M602.6,767.1L627.7,751.9"/>
<path class="k" d="M607.5,779.1L634.7,764.4"/>
<path class="k" d="M627.7,751.9C628.3,752 630.4,751.8 631.5,752.6C632.5,753.5 633.6,755.4 634.2,756.8C634.8,758.2 635,759.9 635.1,761.1C635.1,762.4 634.8,763.8 634.7,764.4"/>
<path class="t" d="M611.3,767.1C611.7,767.5 613,768.5 613.5,769.5C614.1,770.5 614.4,772.5 614.6,773.1"/>
<path class="t" d="M613.5,763.3C614.1,763.8 616.2,765.1 617,766.6C617.8,768 618.2,771.1 618.4,772"/>
<path class="t" d="M616.2,761.7C616.8,762.2 618.9,763.5 619.7,764.9C620.5,766.4 620.9,769.5 621.1,770.4"/>
<path class="t" d="M619,760C619.5,760.6 621.6,761.9 622.4,763.3C623.2,764.8 623.6,767.8 623.8,768.7"/>
<path class="t" d="M621.7,758.4C622.3,759 624.3,760.2 625.2,761.7C626,763.1 626.3,766.2 626.6,767.1"/>
<path class="t" d="M624.4,756.8C625,757.3 627.1,758.6 627.9,760C628.7,761.5 629,764.6 629.3,765.5"/>
<path class="t" d="M627.1,755.1C627.7,755.7 629.8,757 630.6,758.4C631.4,759.9 631.8,762.9 632,763.8"/>
<path class="w" d="M580.3,768.7C581.1,767.5 583.1,765 584.1,764.4C585.2,763.8 588.2,763.3 589.6,763.3C591,763.3 594.7,763.5 596.1,764.4C597.5,765.3 600.5,769.3 601.5,770.9C602.6,772.6 604.7,776.8 605.4,778.5C606,780.3 606.8,784.5 606.8,786.1C606.7,787.8 605.5,791.5 604.8,792.7C604.1,793.8 601.6,795.8 600.5,796.2C599.3,796.5 596.7,796.2 595,795.9C593.4,795.7 588,794.6 586.3,793.8C584.7,792.9 581.9,789.7 580.9,788.3C579.9,786.9 578.2,783.3 577.8,781.8C577.5,780.3 577.3,776.8 577.6,775.3C577.9,773.7 579.6,770 580.3,768.7Z"/>
<path class="k" d="M579.2,774.2C580,773.7 584.9,769.6 586.3,769.3C587.7,769 592.2,770.2 593.4,770.9C594.6,771.6 597.5,775.2 598.3,776.4C599.1,777.6 601.3,781.6 601.5,782.9C601.8,784.1 600.9,787.8 600.5,788.9C600,790 597.9,793.1 597.2,793.8C596.5,794.4 593.8,795.2 593.4,795.4"/>
<path class="t" d="M582,773.6L589.6,774.7L593.4,771.5"/>
<path class="t" d="M589.6,774.7L592.3,781.8L596.7,786.1L601,782.9"/>
<path class="t" d="M596.7,786.1L594.5,791.6L593.4,795.4"/>
<path class="t" d="M591.8,764.9C592.8,766 596.5,769 598.3,771.5C600.1,773.9 601.6,777 602.6,779.6C603.6,782.2 604.3,785 604.3,787.2C604.3,789.5 602.9,792.2 602.6,793.2"/>
<ellipse class="w" cx="516.9" cy="760.7" rx="17.5" ry="9.3" transform="rotate(0 516.9 760.7)"/>
<path class="k" d="M501.7,767L507.1,774.7L516.5,777L525.8,774.7L532,767"/>
<path class="t" d="M505.6,770.1C507.4,770.5 512.6,772.8 516.5,772.7C520.3,772.7 526.8,770.2 528.9,769.8"/>
<path class="w" d="M509.5,706.4 L524.2,706.4 L524.2,760.7 L509.5,760.7 Z" style="stroke:none"/>
<path class="k" d="M509.5,706.4L509.5,760.7"/>
<path class="k" d="M524.2,706.1L524.2,760.7"/>
<path class="t" d="M509.5,760.7C510.6,761.3 514,763.9 516.5,763.9C518.9,763.9 522.9,761.3 524.2,760.7"/>
<ellipse class="w" cx="516.8" cy="706.4" rx="7.5" ry="3.1" transform="rotate(0 516.8 706.4)"/>
<path class="t" d="M510.6,711.8C511.6,712.1 514.6,713.4 516.8,713.4C518.9,713.4 522.3,712.1 523.4,711.8"/>
<path class="t" d="M510.6,715.2C511.6,715.5 514.6,716.8 516.8,716.8C518.9,716.8 522.3,715.5 523.4,715.2"/>
<path class="t" d="M510.6,718.7C511.6,718.9 514.6,720.2 516.8,720.2C518.9,720.2 522.3,718.9 523.4,718.7"/>
<path class="t" d="M510.6,722.1C511.6,722.3 514.6,723.6 516.8,723.6C518.9,723.6 522.3,722.3 523.4,722.1"/>
<path class="t" d="M510.6,725.5C511.6,725.8 514.6,727 516.8,727C518.9,727 522.3,725.8 523.4,725.5"/>
<path class="t" d="M510.6,728.9C511.6,729.2 514.6,730.5 516.8,730.5C518.9,730.5 522.3,729.2 523.4,728.9"/>
<path class="t" d="M510.6,732.3C511.6,732.6 514.6,733.9 516.8,733.9C518.9,733.9 522.3,732.6 523.4,732.3"/>
<path class="t" d="M510.6,735.7C511.6,736 514.6,737.3 516.8,737.3C518.9,737.3 522.3,736 523.4,735.7"/>
<path class="t" d="M510.6,739.2C511.6,739.4 514.6,740.7 516.8,740.7C518.9,740.7 522.3,739.4 523.4,739.2"/>
<path class="t" d="M512.1,739.8L512.1,761.5"/>
<path class="k" d="M553.8,646.7C555.2,646.2 560.1,643.7 562.3,643.6C564.5,643.5 566,644.5 567,645.9C568,647.4 568.8,650.6 568.5,652.1C568.3,653.7 567.1,654.3 565.4,655.2C563.8,656.2 559.6,657.2 558.4,657.6"/>
<path class="t" d="M560.8,647.5L562.6,653.7"/>
<path class="t" d="M563.1,646.7L565,652.9"/>
<path class="t" d="M558.4,648.7L560,654.9"/>
<path class="w" d="M535.9,649C537.5,646.7 539.8,645.7 542.1,645.2C544.5,644.6 547.6,644.5 549.9,645.9C552.2,647.4 554.6,650.8 556.1,653.7C557.7,656.5 559,660.4 559.2,663C559.5,665.6 559,667.5 557.7,669.2C556.4,671 553.8,673.1 551.5,673.6C549.1,674.1 546.2,673.3 543.7,672.3C541.2,671.3 538.5,669.9 536.7,667.7C534.9,665.5 533,662.2 532.8,659.1C532.7,656 534.4,651.4 535.9,649Z"/>
<path class="k" d="M536.7,652.1C537.9,651.8 541.4,649.6 543.7,649.8C546,650.1 548.9,651.8 550.7,653.7C552.5,655.6 554.2,659 554.6,661.5C555,663.9 553.3,667.3 553,668.4"/>
<path class="t" d="M537.5,653.7L543.7,654.5L548.4,664.6L554.6,660.7"/>
<path class="t" d="M548.4,664.6L546.8,671.6"/>
<path class="t" d="M543.7,654.5L547.6,650.6"/>
<path class="w" d="M699.4,594.4C698.4,595 686.7,600.7 685.7,601.6C684.6,602.6 685.2,606.3 685.3,607C685.5,607.6 687.1,610.2 687.5,610.7C687.9,611.3 690,613.9 690.7,614.2C691.3,614.4 695.2,614.6 696.3,614.2C697.4,613.8 704.4,609.2 705.1,608.8"/>
<path class="k" d="M691.9,601.9C692.6,602.7 695,604.5 695.7,606.3C696.4,608.2 696.2,612.1 696.3,613.2"/>
<path class="k" d="M695.1,599.8C695.7,600.5 698.1,602.5 698.8,604.5C699.5,606.4 699.3,610.2 699.4,611.3"/>
<path class="k" d="M698.2,597.9C698.8,598.7 701.2,600.6 701.9,602.6C702.7,604.5 702.5,608.3 702.6,609.5"/>
<path class="w" d="M699.4,594.4C699.5,593.5 699.7,590.3 700.1,588.8C700.5,587.3 700.7,586.4 701.9,585.3C703.2,584.3 705.7,583 707.6,582.5C709.5,582.1 711.5,582 713.2,582.5C715,583.1 716.7,584.3 718.2,585.7C719.8,587 721.6,588.8 722.6,590.7C723.7,592.6 724.3,595.1 724.5,596.9C724.7,598.8 724.4,600.4 723.9,601.9C723.4,603.5 722.5,605.1 721.4,606.3C720.2,607.6 718,608.8 717,609.5C715.9,610.1 715.4,610.3 715.1,610.4"/>
<path class="k" d="M700.7,595.7C701.3,595.1 703.1,592.5 704.5,591.9C705.8,591.4 707.5,591.6 708.8,592.2C710.2,592.9 711.8,594.5 712.6,595.7C713.4,596.9 713.7,598.2 713.9,599.4C714,600.7 714.1,602.1 713.2,603.2C712.4,604.4 710.2,605.6 708.8,606.3C707.5,607.1 705.7,607.4 705.1,607.6"/>
<path class="k" d="M700.7,596.3C701.4,597 704.2,598.9 705.1,600.7C705.9,602.5 705.6,606.2 705.7,607.3"/>
<path class="k" d="M705.1,607.6L710.1,607L711.3,609.2L713.9,608.2"/>
<path class="t" d="M703.8,586.9L712.6,589.1L716.4,586.9"/>
<path class="t" d="M712.6,589.1L713.9,593.2L718.2,600.1L722,598.8"/>
<path class="t" d="M718.2,600.1L716.7,607.6"/>
</g>
<!-- 55_overlay2.svg -->
<g>
<path class="t" d="M330.7,274.6L339.4,269.4"/>
<path class="t" d="M647.2,749.2L655.9,744.3"/>
<path class="t" d="M542.4,151.8L547,149.4"/>
<path class="t" d="M791.8,666L797.2,662.8"/>
</g>
<!-- 60_car.svg -->
<g>
<rect class="t" x="1063.5" y="718.5" width="204" height="148" style="fill:#fff"/>
<path class="t" d="M1107.8,780.9C1108.5,780.3 1113.8,775.5 1116,773.5C1118.3,771.5 1133.2,758.6 1135,757C1136.8,755.5 1135.5,755.8 1137.5,754.6C1139.5,753.3 1155.2,744.2 1158.9,742.2C1162.6,740.2 1180.1,731.3 1182,730.3"/>
<path class="t" d="M1182,730.3C1184.3,730 1198.3,728.3 1201.8,727.4C1205.2,726.4 1209.7,723.1 1211.7,722.4C1213.6,721.7 1216.7,721.2 1218.3,721.3C1219.8,721.4 1222.2,722.1 1224.9,723.2C1227.5,724.4 1237.9,729.6 1241.3,731.5C1244.8,733.4 1252.3,738.2 1254.5,739.7C1256.7,741.3 1259.4,743.4 1260.3,744.7C1261.2,745.9 1261.7,748.9 1261.9,750.4C1262.2,752 1262.4,756.4 1262.8,757.9C1263.2,759.3 1265,761.8 1265.2,762.8C1265.4,763.8 1265.3,764.6 1264.4,766.1C1263.6,767.6 1259.6,773.5 1257.8,776C1256,778.5 1249.8,786.2 1248.8,787.5"/>
<path class="t" d="M1182,730.3C1183.6,730.7 1188,730.7 1191.9,732.3C1195.7,733.9 1201.5,737.3 1205.1,739.7C1208.6,742.2 1210.8,745.1 1213.3,747.1C1215.8,749.2 1218.8,751.3 1219.9,752.1"/>
<path class="t" d="M1219.9,752.1L1243,753.7L1260.3,745.2"/>
<path class="t" d="M1201.8,727.4C1204,727.9 1210.8,729.1 1215,730.7C1219.1,732.2 1222.9,734.2 1226.5,736.4C1230.1,738.6 1233.6,741 1236.4,743.8C1239.1,746.7 1241.9,752.1 1243,753.7"/>
<path class="t" d="M1135,757C1136.8,758.3 1141.7,762 1145.7,764.5C1149.7,766.9 1154.1,769.4 1158.9,771.9C1163.7,774.3 1172,778.1 1174.6,779.3"/>
<path class="t" d="M1107.8,780.9C1108.1,781.6 1108.1,783.6 1109.5,785.1C1110.8,786.6 1112.8,787.8 1116,790C1119.3,792.2 1124.8,795.8 1129.2,798.3C1133.6,800.7 1138.6,803.2 1142.4,804.8C1146.3,806.5 1149.8,807.5 1152.3,808.1C1154.8,808.8 1156.4,808.8 1157.3,809"/>
<path class="t" d="M1157.3,809.3C1155.1,810.2 1143.7,815.1 1139.1,817.2C1134.5,819.3 1122.1,825 1117.7,827.1C1113.3,829.2 1103.6,833.8 1101.2,835.3C1098.8,836.9 1097.6,839.7 1097.1,840.3"/>
<path class="t" d="M1157.3,809C1157.2,809.5 1157.9,812.4 1156.4,813.9C1155,815.4 1145.5,821.8 1142.4,823.8C1139.4,825.8 1128.7,831.9 1125.9,833.7C1123.1,835.5 1115.6,841.1 1114.4,841.9"/>
<path class="t" d="M1114.4,841.9L1121,842.8L1123.5,845.2"/>
<path class="t" d="M1174.6,779.3C1175.1,778.8 1176.7,776.6 1178.7,775.2C1180.7,773.7 1188.8,768.7 1191.9,766.9C1195,765.2 1202.8,761.4 1205.1,760.3C1207.4,759.3 1209.7,758.1 1211.7,757.9C1213.6,757.6 1219.4,757.9 1221.6,758.2C1223.7,758.5 1228.5,759.7 1229.8,760.3C1231,761 1232.2,762.8 1232.3,763.6C1232.4,764.5 1232.6,766.1 1230.6,767.8C1228.6,769.4 1219.5,774.8 1215,777.6C1210.4,780.5 1196.2,789.7 1191.9,792.5C1187.6,795.3 1179.5,800.5 1177.9,801.5"/>
<path class="t" d="M1177.9,801.5L1168.8,799.9"/>
<path class="t" d="M1174.6,779.3C1174.2,780.4 1173.1,783.1 1172.1,785.9C1171.1,788.6 1169.6,793 1168.8,795.8C1168,798.5 1168.3,800.1 1167.2,802.4C1166.1,804.6 1163,808.1 1162.2,809.3"/>
<path class="t" d="M1162.2,809.3C1163,809.2 1167.3,808.6 1168.8,808.6C1170.3,808.7 1174.2,809.8 1175.4,809.8C1176.6,809.8 1178.2,809.4 1178.7,809C1179.2,808.5 1179.7,806.2 1179.5,805.7C1179.3,805.1 1178.3,804.5 1177,804C1175.8,803.5 1169.8,801.8 1168.8,801.5"/>
<path class="t" d="M1108.6,766.1C1108.9,765.4 1109.6,765 1110.3,765.3C1111,765.6 1112.1,766.7 1112.8,767.8C1113.4,768.9 1114.4,770.6 1114.4,771.9C1114.4,773.1 1113.4,774.9 1112.8,775.2C1112.1,775.4 1111,774.5 1110.3,773.5C1109.6,772.6 1108.9,770.6 1108.6,769.4C1108.4,768.2 1108.4,766.8 1108.6,766.1Z"/>
<path class="t" d="M1112.8,775.2L1111.4,776.8"/>
<path class="t" d="M1107.8,780.9C1106.8,781.5 1101.7,784.5 1099.6,785.9C1097.4,787.2 1092.4,790.4 1089.7,792.5C1087,794.6 1078.9,801.5 1076.5,804C1074.1,806.5 1070,812.3 1069.1,813.9C1068.1,815.5 1068.3,817.6 1068.2,818"/>
<path class="t" d="M1068.2,818L1076.5,824.6L1079,828.7"/>
<path class="t" d="M1104.5,785.1C1102.6,787.1 1096.3,793.4 1093,797.4C1089.7,801.4 1087.1,805.1 1084.7,809C1082.4,812.8 1080.1,817.8 1079,820.5C1077.9,823.3 1078.3,824.6 1078.1,825.5"/>
<path class="t" d="M1069.1,820.5L1076.5,827.1"/>
<path class="t" d="M1079,828.7L1083.1,828.4L1086.4,832L1086.4,837L1081.4,834.5L1079,830.4Z"/>
<path class="t" d="M1087.2,832.9L1090.5,832.9L1095.4,836.2L1095.4,841.1L1090.5,839.5L1087.2,837Z"/>
<path class="t" d="M1066.6,821.3C1066.5,822.6 1065.7,826.1 1066.3,828.7C1066.8,831.4 1067.6,834.2 1069.9,837C1072.1,839.7 1075.9,842.8 1079.8,845.2C1083.6,847.7 1088,849.8 1093,851.8C1097.9,853.9 1104.1,856.2 1109.5,857.6C1114.8,859 1122.5,859.7 1125.1,860.1"/>
<path class="t" d="M1097.1,840.3C1098.1,840.6 1100.3,841.1 1102.9,841.9C1105.5,842.8 1110,844.4 1112.8,845.2C1115.5,846.1 1116.3,846.7 1119.3,846.9C1122.4,847 1129,846.2 1130.9,846.1"/>
<path class="t" d="M1097.1,842.8C1099.2,843.4 1105.7,845.8 1109.5,846.9C1113.2,848 1115.8,849.4 1119.3,849.4C1122.9,849.4 1129,847.3 1130.9,846.9"/>
<path class="t" d="M1097.1,840.3L1097.1,842.8"/>
<path class="t" d="M1125.1,860.1C1125.5,859.2 1126.6,857.3 1127.6,855.1C1128.6,852.9 1129.8,849.2 1130.9,846.9C1132,844.5 1132.5,843 1134.2,841.1C1135.8,839.2 1138.6,836.8 1140.8,835.3C1143,833.9 1145.4,832.9 1147.4,832.5C1149.3,832.2 1151.1,832.5 1152.3,833.4C1153.6,834.2 1154.4,836 1154.8,837.8C1155.2,839.7 1154.8,843.3 1154.8,844.4"/>
<path class="t" d="M1154.8,844.4C1154.4,845.4 1153.6,848 1152.3,850.2C1151.1,852.4 1149.3,855.5 1147.4,857.6C1145.4,859.7 1142.8,861.4 1140.8,862.5C1138.7,863.7 1136.9,864.8 1135,864.7C1133.1,864.5 1130.9,862.5 1129.2,861.7C1127.6,860.9 1125.8,860.3 1125.1,860.1"/>
<path class="t" d="M1154.8,844.4C1155.1,844.3 1157.2,843.7 1158.9,842.8C1160.6,841.8 1172.6,834.5 1175.4,832.9C1178.1,831.2 1189.1,824.6 1191.9,823C1194.6,821.4 1206.4,815 1208.4,813.9C1210.3,812.8 1213.9,810.3 1215,809.8C1216,809.3 1220.3,808.3 1220.7,808.1"/>
<path class="t" d="M1220.7,808.1C1220.5,806.9 1222.2,805 1223.2,802.4C1224.2,799.8 1225.1,795.4 1226.5,792.5C1227.9,789.6 1229.5,787.1 1231.4,785.1C1233.4,783 1235.8,781.1 1238,780.1C1240.2,779.2 1243.1,778.6 1244.6,779.3C1246.1,780 1246.8,782 1247.1,784.2C1247.4,786.4 1247,789.7 1246.3,792.5C1245.6,795.2 1244.4,798.3 1243,800.7C1241.6,803.2 1240,805.7 1238,807.3C1236.1,809 1233.6,810.2 1231.4,810.6C1229.2,811 1226.6,810.2 1224.9,809.8C1223.1,809.4 1221,809.4 1220.7,808.1Z"/>
<path class="t" d="M1244.6,779.3L1248.8,787.5"/>
<path class="t" d="M1246.3,777.6C1246.9,777 1255,768.7 1256.2,767.8C1257.4,766.8 1263.9,763.1 1264.4,762.8"/>
</g>
<!-- 90_labels.svg -->
<g class="lbl">
<text transform="translate(610.3,197.6) scale(1.02,1)">7</text>
<text transform="translate(554.5,229.6) scale(1.02,1)">8</text>
<text transform="translate(479.8,313.1) scale(1.02,1)">11</text>
<text transform="translate(347,349) scale(1.02,1)">8</text>
<text transform="translate(302.3,374) scale(1.02,1)">9</text>
<text transform="translate(469.2,514.6) scale(1.02,1)">3</text>
<text transform="translate(914.3,504.4) scale(1.02,1)">6</text>
<text transform="translate(828.5,559.1) scale(1.02,1)">2</text>
<text transform="translate(972.9,629.2) scale(1.02,1)">7</text>
<text transform="translate(715.8,646.2) scale(1.02,1)">10</text>
<text transform="translate(315.5,652.7) scale(1.02,1)">13</text>
<text transform="translate(315.5,707) scale(1.02,1)">14</text>
<text transform="translate(315.5,765) scale(1.02,1)">12</text>
<text transform="translate(417.9,730.5) scale(1.02,1)">4</text>
<text transform="translate(555.6,731.8) scale(1.02,1)">5</text>
<text transform="translate(808.4,731) scale(1.02,1)">8</text>
<text transform="translate(616.5,841.6) scale(1.02,1)">9</text>
<text transform="translate(663.3,841.5) scale(1.02,1)">8</text>
<text transform="translate(726.4,840.9) scale(1.02,1)">1</text>
</g>
<text class="num" x="1064.5" y="886.5" style="font-size:18px;letter-spacing:1.75px">00081612</text>
</svg>
</body></html>
